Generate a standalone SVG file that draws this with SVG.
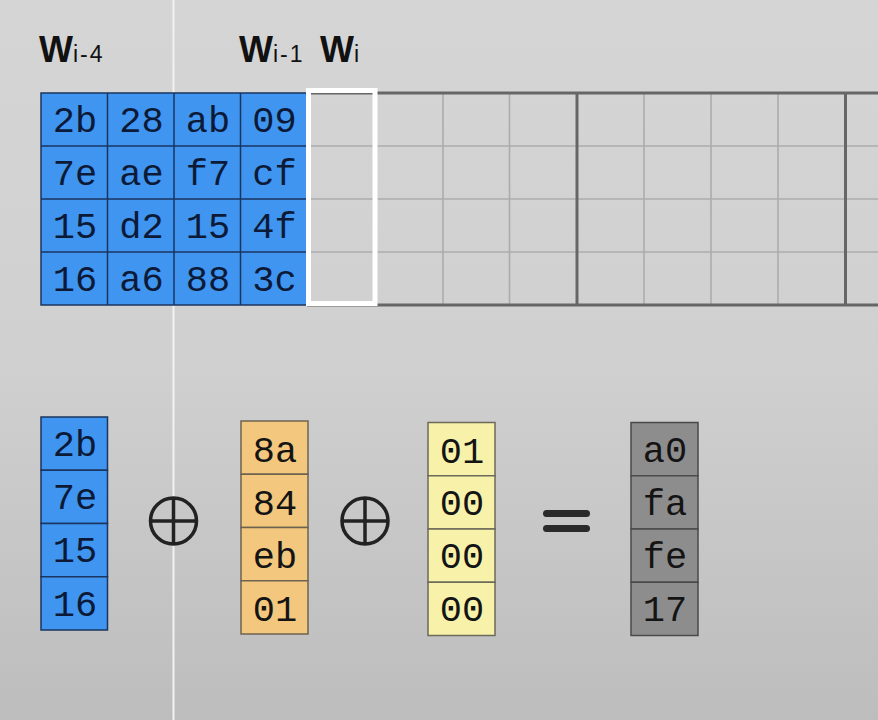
<svg xmlns="http://www.w3.org/2000/svg" width="878" height="720" viewBox="0 0 878 720">
<defs>
<linearGradient id="bg" x1="0" y1="0" x2="0" y2="1">
<stop offset="0" stop-color="#d5d5d5"/>
<stop offset="0.5" stop-color="#d0d0d0"/>
<stop offset="1" stop-color="#bdbdbd"/>
</linearGradient>
<style>
.hex{font-family:"Liberation Mono","DejaVu Sans Mono",monospace;font-size:37px;text-anchor:middle;}
.blue{fill:#3f95ef;stroke:#1a355f;stroke-width:1.5;}
.org{fill:#f3c77e;stroke:#6e6350;stroke-width:1.5;}
.yel{fill:#f7f1aa;stroke:#6c6a5a;stroke-width:1.5;}
.gry{fill:#8d8d8d;stroke:#4a4a4a;stroke-width:1.5;}
.tn{fill:#0c1a38;}
.tk{fill:#141414;}
.lbl{font-family:"Liberation Sans","Noto Sans",sans-serif;fill:#111;}
.w{font-size:36px;font-weight:bold;}
.sub{font-size:23px;letter-spacing:2px;}
.thin{stroke:#acacac;stroke-width:1.6;}
.thick{stroke:#666;stroke-width:3;}
.op{fill:none;stroke:#222;stroke-width:3.5;}
</style>
</defs>
<rect width="878" height="720" fill="url(#bg)"/>
<line x1="173.5" y1="0" x2="173.5" y2="720" stroke="#f2f2f2" stroke-width="2"/>

<g id="labels">
<text class="lbl" x="39" y="62"><tspan class="w">W</tspan><tspan class="sub">i-4</tspan></text>
<text class="lbl" x="239" y="62"><tspan class="w">W</tspan><tspan class="sub">i-1</tspan></text>
<text class="lbl" x="320" y="62"><tspan class="w">W</tspan><tspan class="sub">i</tspan></text>
</g>

<g id="empty-grid">
<g class="thin">
<line x1="307" y1="146" x2="878" y2="146"/>
<line x1="307" y1="199" x2="878" y2="199"/>
<line x1="307" y1="252" x2="878" y2="252"/>
<line x1="443" y1="93" x2="443" y2="305"/>
<line x1="509.5" y1="93" x2="509.5" y2="305"/>
<line x1="644" y1="93" x2="644" y2="305"/>
<line x1="711" y1="93" x2="711" y2="305"/>
<line x1="778" y1="93" x2="778" y2="305"/>
</g>
<g class="thick">
<line x1="307" y1="93" x2="878" y2="93"/>
<line x1="307" y1="305" x2="878" y2="305"/>
<line x1="577" y1="93" x2="577" y2="305"/>
<line x1="845.5" y1="93" x2="845.5" y2="305"/>
</g>
</g>

<g id="key-matrix">
<rect class="blue" x="41" y="93" width="266" height="212"/>
<g stroke="#1a355f" stroke-width="1.5">
<line x1="107.5" y1="93" x2="107.5" y2="305"/>
<line x1="174" y1="93" x2="174" y2="305"/>
<line x1="240.5" y1="93" x2="240.5" y2="305"/>
<line x1="41" y1="146" x2="307" y2="146"/>
<line x1="41" y1="199" x2="307" y2="199"/>
<line x1="41" y1="252" x2="307" y2="252"/>
</g>
<g class="hex tn">
<text x="75" y="132">2b</text><text x="141.5" y="132">28</text><text x="208" y="132">ab</text><text x="274.5" y="132">09</text>
<text x="75" y="185">7e</text><text x="141.5" y="185">ae</text><text x="208" y="185">f7</text><text x="274.5" y="185">cf</text>
<text x="75" y="238">15</text><text x="141.5" y="238">d2</text><text x="208" y="238">15</text><text x="274.5" y="238">4f</text>
<text x="75" y="291">16</text><text x="141.5" y="291">a6</text><text x="208" y="291">88</text><text x="274.5" y="291">3c</text>
</g>
</g>

<g id="wi-highlight">
<rect x="308.5" y="90.5" width="66.5" height="213" fill="none" stroke="#ffffff" stroke-width="5"/>
</g>

<g id="col-wi4">
<rect class="blue" x="41" y="417" width="66.5" height="53.25"/>
<rect class="blue" x="41" y="470.25" width="66.5" height="53.25"/>
<rect class="blue" x="41" y="523.5" width="66.5" height="53.25"/>
<rect class="blue" x="41" y="576.75" width="66.5" height="53.25"/>
<g class="hex tn">
<text x="75" y="456">2b</text><text x="75" y="509">7e</text><text x="75" y="562">15</text><text x="75" y="616">16</text>
</g>
</g>

<g id="xor1">
<circle class="op" cx="173.5" cy="521" r="23"/>
<line class="op" x1="150.5" y1="521" x2="196.5" y2="521"/>
<line class="op" x1="173.5" y1="498" x2="173.5" y2="544"/>
</g>

<g id="col-sub">
<rect class="org" x="241" y="421" width="67" height="53.25"/>
<rect class="org" x="241" y="474.25" width="67" height="53.25"/>
<rect class="org" x="241" y="527.5" width="67" height="53.25"/>
<rect class="org" x="241" y="580.75" width="67" height="53.25"/>
<g class="hex tk">
<text x="275" y="462">8a</text><text x="275" y="515">84</text><text x="275" y="568">eb</text><text x="275" y="621">01</text>
</g>
</g>

<g id="xor2">
<circle class="op" cx="365" cy="521" r="23"/>
<line class="op" x1="342" y1="521" x2="388" y2="521"/>
<line class="op" x1="365" y1="498" x2="365" y2="544"/>
</g>

<g id="col-rcon">
<rect class="yel" x="428" y="422.5" width="67" height="53.25"/>
<rect class="yel" x="428" y="475.75" width="67" height="53.25"/>
<rect class="yel" x="428" y="529" width="67" height="53.25"/>
<rect class="yel" x="428" y="582.25" width="67" height="53.25"/>
<g class="hex tk">
<text x="462" y="463">01</text><text x="462" y="515">00</text><text x="462" y="568">00</text><text x="462" y="621">00</text>
</g>
</g>

<g id="equals">
<rect x="543" y="510" width="47" height="7" rx="3.5" fill="#2a2a2a"/>
<rect x="543" y="525" width="47" height="7" rx="3.5" fill="#2a2a2a"/>
</g>

<g id="col-result">
<rect class="gry" x="631" y="422.5" width="67" height="53.25"/>
<rect class="gry" x="631" y="475.75" width="67" height="53.25"/>
<rect class="gry" x="631" y="529" width="67" height="53.25"/>
<rect class="gry" x="631" y="582.25" width="67" height="53.25"/>
<g class="hex tk">
<text x="665" y="462">a0</text><text x="665" y="515">fa</text><text x="665" y="568">fe</text><text x="665" y="621">17</text>
</g>
</g>
</svg>
